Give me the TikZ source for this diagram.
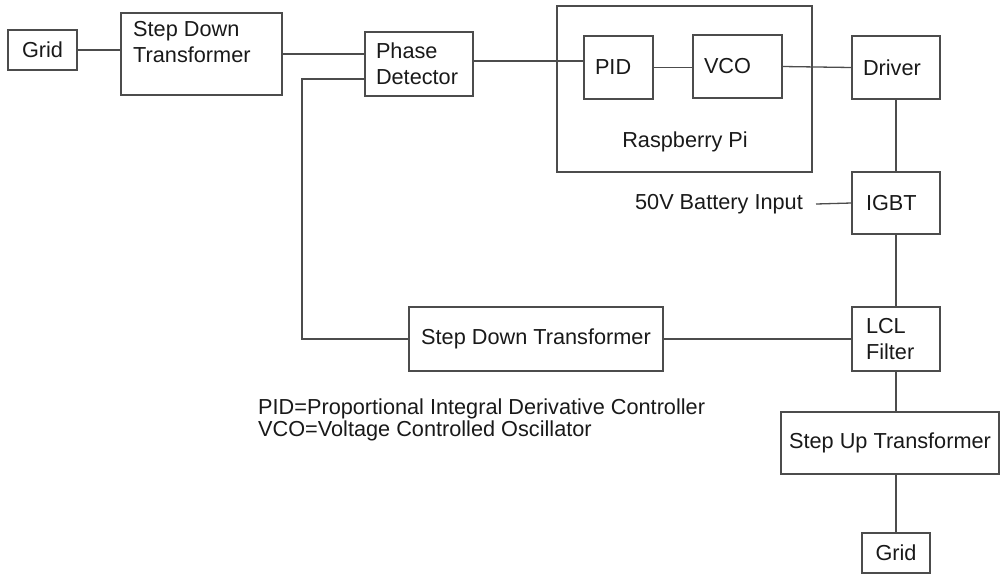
\documentclass[tikz,border=0pt]{standalone}
\usepackage{fontspec}
\setmainfont{Liberation Sans}
\usepackage{tikz}
\usetikzlibrary{positioning,calc}
\tikzset{
  lbl/.style    ={inner sep=0pt,font=\fontsize{21.7}{26}\selectfont,text=black!90},
  blk/.style    ={rectangle,draw=black!70,line width=1.3pt,inner sep=0pt,lbl},
  lblk/.style   ={blk,align=left,inner xsep=11pt},
  wire/.style   ={draw=black!70,line width=1.3pt},
}
\begin{document}
\begin{tikzpicture}[x=1pt,y=-1pt]
  \useasboundingbox (0,0) rectangle (1000,574);
  % supply side
  \node[blk,minimum width=69,minimum height=40] (gridA) at (42.5,50){Grid};
  \node[blk,minimum width=161,minimum height=82] (sdtA) at (201.5,54){};
  \node[lbl,anchor=west,align=left] (sdtAt) at (133,42.5){Step Down\\Transformer};
  \node[lblk,text width=86,minimum height=64] (pd) at (419,64){Phase\\Detector};
  % controller
  \node[blk,minimum width=255,minimum height=166] (rpi) at (684.5,89){};
  \node[lbl] (rpit) at (685,142){Raspberry Pi};
  \node[lblk,text width=47,minimum height=63] (pid) at (618.5,67.5){PID};
  \node[lblk,text width=67,minimum height=63] (vco) at (737.5,66.5){VCO};
  % power stage
  \node[lblk,text width=66,minimum height=63] (drv) at (896,67.5){Driver};
  \node[lblk,inner xsep=14pt,text width=60,minimum height=62] (igbt) at (896,203){IGBT};
  \node[lbl,anchor=east] (batt) at (803,204){50V Battery Input};
  \node[lblk,inner xsep=14pt,text width=60,minimum height=64] (lcl) at (896,339){LCL\\Filter};
  \node[blk,minimum width=254,minimum height=64] (sdtB) at (536,339){Step Down Transformer};
  \node[blk,minimum width=218,minimum height=62] (sut) at (890,443){Step Up Transformer};
  \node[blk,minimum width=68,minimum height=40] (gridB) at (896,553){Grid};
  % notes
  \node[lbl,anchor=north west,align=left,font=\fontsize{21.7}{22}\selectfont] (notes) at (258,399)
    {PID=Proportional Integral Derivative Controller\\VCO=Voltage Controlled Oscillator};
  % connections
  \coordinate (fb) at (302,79);
  \draw[wire] (gridA.east) -- (gridA.east -| sdtA.west);
  \draw[wire] (sdtA.east) -- (sdtA.east -| pd.west);
  \draw[wire] ([yshift=3pt]pd.east) -- ([yshift=3pt]pd.east -| pid.west);
  \draw[wire] (pid.east) -- (pid.east -| vco.west);
  \draw[wire] (vco.east) -- (drv.west);
  \draw[wire] (drv.south) -- (igbt.north);
  \draw[wire] ([xshift=13pt]batt.east) -- (igbt.west);
  \draw[wire] (igbt.south) -- (lcl.north);
  \draw[wire] (lcl.south) -- (lcl.south |- sut.north);
  \draw[wire] (gridB.north |- sut.south) -- (gridB.north);
  \draw[wire] (lcl.west) -- (sdtB.east);
  \draw[wire] (sdtB.west) -| (fb) -- (fb -| pd.west);
\end{tikzpicture}
\end{document}
